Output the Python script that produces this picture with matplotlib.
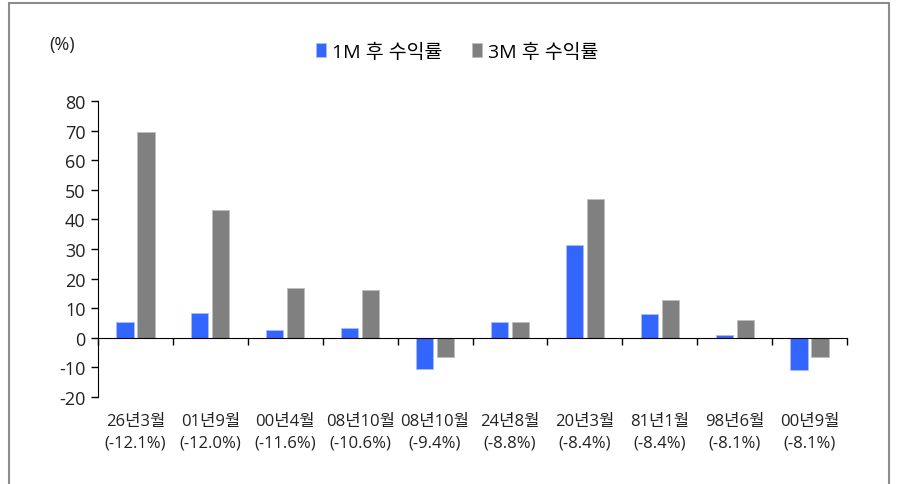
import numpy as np
import matplotlib.pyplot as plt
from matplotlib.patches import Rectangle

plt.rcParams['font.family'] = ['Open Sans', 'Noto Sans CJK KR', 'DejaVu Sans']
plt.rcParams['axes.unicode_minus'] = False

# Data
periods = ['26년3월', '01년9월', '00년4월', '08년10월', '08년10월',
           '24년8월', '20년3월', '81년1월', '98년6월', '00년9월']
drops = ['(-12.1%)', '(-12.0%)', '(-11.6%)', '(-10.6%)', '(-9.4%)',
         '(-8.8%)', '(-8.4%)', '(-8.4%)', '(-8.1%)', '(-8.1%)']
ret_1m = [5.5, 8.4, 2.6, 3.3, -10.5, 5.4, 31.4, 8.1, 1.0, -11.0]
ret_3m = [69.5, 43.1, 16.9, 16.3, -6.5, 5.4, 47.0, 12.7, 6.0, -6.6]

W, H = 897, 485
fig = plt.figure(figsize=(W / 100, H / 100), dpi=100)
ax = fig.add_axes([98 / W, 1 - 398 / H, (847 - 98) / W, (398 - 102) / H])

x = np.arange(len(periods))
ax.bar(x - 0.14, ret_1m, width=0.23, color='#3366ff', edgecolor='#aabbff',
       linewidth=0.6, label='1M 후 수익률')
ax.bar(x + 0.14, ret_3m, width=0.23, color='#808080', edgecolor='#bdbdbd',
       linewidth=0.6, label='3M 후 수익률')

ax.set_xlim(-0.5, len(periods) - 0.5)
ax.set_ylim(-20, 80)
ax.set_yticks(np.arange(-20, 81, 10))
ax.tick_params(axis='y', labelsize=13, length=5, width=1, color='black',
               labelcolor='#222222', pad=4)

# category labels (two lines) and boundary ticks on zero line
ax.set_xticks(np.arange(-0.5, len(periods), 1.0))
ax.set_xticklabels([])
ax.tick_params(axis='x', length=5, width=1, direction='out')
ax.spines['bottom'].set_position(('data', 0))
ax.spines['top'].set_visible(False)
ax.spines['right'].set_visible(False)
for i in range(len(periods)):
    ax.text(x[i], -25.5, periods[i] + '\n' + drops[i], ha='center', va='top',
            fontsize=12, color='#222222', linespacing=1.45,
            transform=ax.transData)

ax.text(49 / W, 1 - 45 / H, '(%)', transform=fig.transFigure, fontsize=13,
        color='#222222', va='center', ha='left')

fig.legend(loc='center', bbox_to_anchor=(457 / W, 1 - 53 / H), ncol=2,
           frameon=False, fontsize=14, handlelength=0.55, handleheight=0.75,
           handletextpad=0.3, columnspacing=1.5)

# outer frame
fig.add_artist(Rectangle((9 / W, -0.05), (889 - 9) / W, 1 - 4 / H + 0.05,
                         transform=fig.transFigure, fill=False,
                         edgecolor='#8c8c8c', linewidth=1.5, clip_on=False))

fig.savefig('out.png', dpi=100)
